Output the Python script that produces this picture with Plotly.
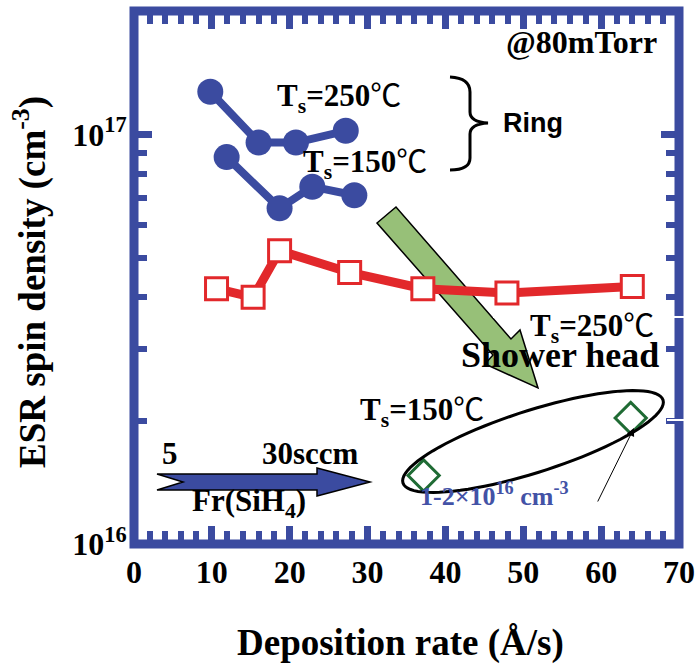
import math
import plotly.graph_objects as go

# ---------------- data ----------------
ring250_x = [9.8, 16.0, 20.8, 27.2]
ring250_y = [1.27e17, 9.55e16, 9.55e16, 1.02e17]
ring150_x = [11.9, 18.7, 22.9, 28.3]
ring150_y = [8.8e16, 6.6e16, 7.45e16, 7.1e16]
shower250_x = [10.6, 15.3, 18.7, 27.7, 37.1, 47.9, 64.0]
shower250_y = [4.2e16, 4.0e16, 5.2e16, 4.6e16, 4.2e16, 4.1e16, 4.25e16]
shower150_x = [37.2, 63.8]
shower150_y = [1.47e16, 2.03e16]

x_range = [0, 70]
y_range = [1e16, 2e17]
y_major_vals = [1e16, 1e17]
y_major_text = ["10<sup>16</sup>", "10<sup>17</sup>"]
y_minor_vals = [2e16, 3e16, 4e16, 5e16, 6e16, 7e16, 8e16, 9e16]

BLUE = "#3B4BA0"
RED = "#E2282B"
GREEN = "#1F6B34"
ARROW_GREEN = "#97C078"
SERIF = "Liberation Serif"
SANS = "Liberation Sans"

# plot area in pixels
W, H = 697, 664
L, R, T, B = 134, 679, 11, 544


def pp(px, py):
    return (px - L) / (R - L), (B - py) / (B - T)


def path_from(points, close=True):
    s = ""
    for i, (px, py) in enumerate(points):
        x, y = pp(px, py)
        s += ("M" if i == 0 else "L") + f"{x:.5f},{y:.5f} "
    if close:
        s += "Z"
    return s


fig = go.Figure()

fig.add_trace(go.Scatter(x=shower250_x, y=shower250_y, mode="lines+markers",
                         line=dict(color=RED, width=9),
                         marker=dict(symbol="square", size=22, color="white",
                                     line=dict(color=RED, width=3)),
                         showlegend=False))
fig.add_trace(go.Scatter(x=ring250_x, y=ring250_y, mode="lines+markers",
                         line=dict(color=BLUE, width=8),
                         marker=dict(symbol="circle", size=26, color=BLUE),
                         showlegend=False))
fig.add_trace(go.Scatter(x=ring150_x, y=ring150_y, mode="lines+markers",
                         line=dict(color=BLUE, width=8),
                         marker=dict(symbol="circle", size=26, color=BLUE),
                         showlegend=False))
fig.add_trace(go.Scatter(x=shower150_x, y=shower150_y, mode="markers",
                         marker=dict(symbol="diamond-open", size=24, color=GREEN,
                                     line=dict(color=GREEN, width=3)),
                         showlegend=False))

shapes = []
# green block arrow (below traces)
green_arrow = [(377, 223), (396, 207), (511, 339), (520, 330), (538, 388),
               (485, 364), (493, 355)]
shapes.append(dict(type="path", xref="paper", yref="paper", layer="below",
                   path=path_from(green_arrow), fillcolor=ARROW_GREEN,
                   line=dict(color="black", width=1.5)))
# blue flow arrow
blue_arrow = [(157, 474), (317, 474), (317, 468), (370, 482), (317, 496),
              (317, 490), (157, 490), (183, 482)]
shapes.append(dict(type="path", xref="paper", yref="paper",
                   path=path_from(blue_arrow), fillcolor=BLUE,
                   line=dict(color="black", width=1.5)))
# ellipse around Ts=150 shower head points
cx, cy, a, b, th = 533, 441.5, 136.5, 31, math.radians(17.7)
e1 = (math.cos(th), -math.sin(th))
e2 = (math.sin(th), math.cos(th))
ell = []
for k in range(90):
    t = 2 * math.pi * k / 90
    ell.append((cx + a * math.cos(t) * e1[0] + b * math.sin(t) * e2[0],
                cy + a * math.cos(t) * e1[1] + b * math.sin(t) * e2[1]))
shapes.append(dict(type="path", xref="paper", yref="paper",
                   path=path_from(ell), line=dict(color="black", width=3)))


# curly brace
def q(c, p1):
    x0, y0 = pp(*c)
    x1, y1 = pp(*p1)
    return f"Q{x0:.5f},{y0:.5f} {x1:.5f},{y1:.5f} "


bx, by = pp(450, 77)
brace = f"M{bx:.5f},{by:.5f} " + q((470, 78), (470, 92))
lx, ly = pp(470, 112)
brace += f"L{lx:.5f},{ly:.5f} " + q((470, 122), (488, 123)) + q((470, 124), (470, 134))
lx, ly = pp(470, 158)
brace += f"L{lx:.5f},{ly:.5f} " + q((470, 170), (450, 170))
shapes.append(dict(type="path", xref="paper", yref="paper", path=brace,
                   line=dict(color="black", width=3)))
# thick frame centred on the plot edges
shapes.append(dict(type="rect", xref="paper", yref="paper", layer="above",
                   x0=0, x1=1, y0=0, y1=1, line=dict(color=BLUE, width=9)))
# white scan artefact lines
for (x0p, x1p, yp) in [(493, 697, 317), (667, 697, 420)]:
    xa, ya = pp(x0p, yp)
    xb, _ = pp(x1p, yp)
    shapes.append(dict(type="line", xref="paper", yref="paper", layer="above",
                       x0=xa, x1=xb, y0=ya, y1=ya,
                       line=dict(color="white", width=2)))

CEL = '<span style="font-family:Noto Sans CJK JP;font-weight:normal">℃</span>'
anns = []


def txt(text, px, py, size=31, family=SERIF, color="black", angle=0):
    x, y = pp(px, py)
    anns.append(dict(text=text, x=x, y=y, xref="paper", yref="paper",
                     xanchor="center", yanchor="middle", showarrow=False,
                     textangle=angle,
                     font=dict(family=family, size=size, color=color)))


txt("<b>@80mTorr</b>", 581, 42, 32)
txt(f"<b>T<sub>s</sub>=250</b>{CEL}", 339, 94, 31)
txt(f"<b>T<sub>s</sub>=150</b>{CEL}", 365, 160, 31)
txt("<b>Ring</b>", 533, 123, 27, SANS)
txt(f"<b>T<sub>s</sub>=250</b>{CEL}", 592, 324, 31)
txt("<b>Shower head</b>", 560, 355, 36)
txt(f"<b>T<sub>s</sub>=150</b>{CEL}", 422, 408, 31)
txt("<b>5</b>", 170, 453, 31)
txt("<b>30sccm</b>", 310, 453, 31)
txt("<b>Fr(SiH<sub>4</sub>)</b>", 249, 503, 31)
txt("<b>1-2×10<sup>16</sup> cm<sup>-3</sup></b>", 494, 494, 26, SERIF, "#4352A6")
txt("<b>Deposition rate (Å/s)</b>", 400, 643, 37)
txt("<b>ESR spin density (cm<sup>-3</sup>)</b>", 30, 282, 37, angle=-90)

hx, hy = pp(634, 428)
anns.append(dict(x=hx, y=hy, xref="paper", yref="paper", text="",
                 showarrow=True, ax=-37, ay=75, arrowhead=2, arrowsize=1.6,
                 arrowwidth=1, arrowcolor="black", standoff=0))

fig.update_layout(
    width=W, height=H,
    margin=dict(l=L, r=W - R, t=T, b=H - B, autoexpand=False),
    paper_bgcolor="white", plot_bgcolor="white",
    shapes=shapes, annotations=anns, showlegend=False,
)
fig.update_xaxes(range=x_range, dtick=10, tick0=0, showgrid=False, zeroline=False,
                 automargin=False,
                 showline=True, linecolor=BLUE, linewidth=1, mirror="allticks",
                 ticks="inside", ticklen=18, tickwidth=7, tickcolor=BLUE,
                 tickfont=dict(family=SERIF, size=32, color="black", weight="bold"),
                 minor=dict(dtick=2, tick0=0, ticks="inside", ticklen=13,
                            tickwidth=6, tickcolor=BLUE, showgrid=False))
fig.update_yaxes(type="log", range=[math.log10(y_range[0]), math.log10(y_range[1])],
                 tickmode="array", tickvals=y_major_vals, ticktext=y_major_text,
                 showgrid=False, zeroline=False, automargin=False,
                 showline=True, linecolor=BLUE, linewidth=1, mirror="allticks",
                 ticks="inside", ticklen=18, tickwidth=7, tickcolor=BLUE,
                 tickfont=dict(family=SERIF, size=32, color="black", weight="bold"),
                 minor=dict(tickmode="array", tickvals=y_minor_vals, ticks="inside",
                            ticklen=13, tickwidth=6, tickcolor=BLUE, showgrid=False))

fig.write_html("out.html",
               config={"displayModeBar": False},
               post_script="document.body.style.margin='0';"
                           "document.body.style.padding='0';"
                           "document.body.style.overflow='hidden';")
